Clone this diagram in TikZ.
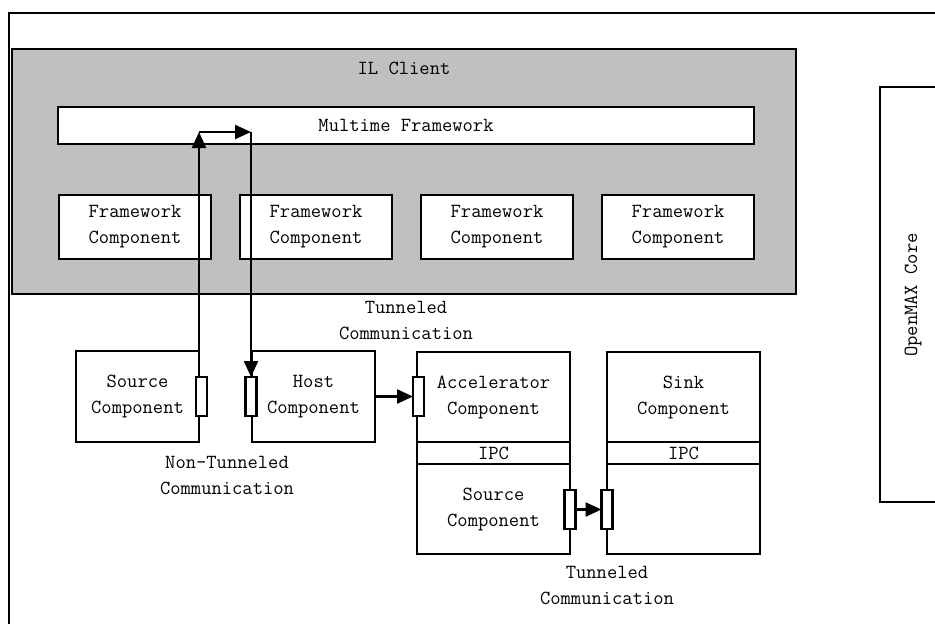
\documentclass[tikz,border=0pt]{standalone}
\usetikzlibrary{arrows.meta}
\definecolor{ilgray}{HTML}{C0C0C0}
\begin{document}
\begin{tikzpicture}[x=1pt,y=-1pt,
  every node/.style={inner sep=0pt, outer sep=0pt},
  lbl/.style={font=\ttfamily\fontsize{20}{26}\selectfont, align=center},
  box/.style={draw, line width=2.3pt, fill=white, rectangle, lbl},
  port/.style={draw, line width=2.3pt, fill=white, rectangle, minimum width=11pt, minimum height=39pt},
  conn/.style={line width=2.3pt, -{Triangle[length=16pt,width=14pt]}}]
\clip (0,0) rectangle (935,624);
\fill[white] (0,0) rectangle (935,624);
% outer frame
\node[draw, line width=2.6pt, rectangle, minimum width=960pt, minimum height=640pt, anchor=north west] (outer) at (9,13) {};
% IL client
\node[draw, line width=2.3pt, fill=ilgray, rectangle, minimum width=784pt, minimum height=245pt] (ilc) at (404,171.5) {};
\node[lbl] (iltxt) at (404,68) {IL Client};
\node[box, minimum width=696pt, minimum height=37pt] (mf) at (406,125.5) {Multime Framework};
\node[box, minimum width=152pt, minimum height=64pt] (fc1) at (135,227) {Framework\\Component};
\node[box, minimum width=152pt, minimum height=64pt] (fc2) at (316,227) {Framework\\Component};
\node[box, minimum width=152pt, minimum height=64pt] (fc3) at (497,227) {Framework\\Component};
\node[box, minimum width=152pt, minimum height=64pt] (fc4) at (678,227) {Framework\\Component};
% components
\node[box, minimum width=123pt, minimum height=91pt] (src) at (137.5,396.5) {Source\\Component};
\node[box, minimum width=123pt, minimum height=91pt] (host) at (313.5,396.5) {Host\\Component};
\node[box, minimum width=153pt, minimum height=90pt] (acc) at (493.5,397) {Accelerator\\Component};
\node[box, minimum width=153pt, minimum height=22pt] (accipc) at (493.5,453) {IPC};
\node[box, minimum width=153pt, minimum height=90pt] (accsrc) at (493.5,509) {Source\\Component};
\node[box, minimum width=153pt, minimum height=90pt] (sink) at (683.5,397) {Sink\\Component};
\node[box, minimum width=153pt, minimum height=22pt] (sinkipc) at (683.5,453) {IPC};
\node[box, minimum width=153pt, minimum height=90pt] (sinkbot) at (683.5,509) {};
% OpenMAX core
\node[draw, line width=2.3pt, rectangle, minimum width=120pt, minimum height=415pt, anchor=north west] (core) at (880,87) {};
\node[lbl, rotate=90] (coretxt) at (913,295) {OpenMAX Core};
% ports
\node[port] (p1) at (201.5,396.5) {};
\node[port] (p2) at (251,396.5) {};
\node[port] (p3) at (418.5,396.5) {};
\node[port] (p4) at (570,509.5) {};
\node[port] (p5) at (607,509.5) {};
% labels
\node[lbl] (tun1) at (406,321) {Tunneled\\Communication};
\node[lbl] (ntun) at (227,476) {Non-Tunneled\\Communication};
\node[lbl] (tun2) at (607,586) {Tunneled\\Communication};
% connectors
\coordinate (t1) at (199,132);
\coordinate (t2) at (251,132);
\draw[conn] (p1.north -| t1) -- (t1);
\draw[conn] (t1) -- (t2);
\draw[conn] (t2) -- (p2.north);
\draw[conn] (host.east) -- (p3.west);
\draw[conn] (p4.east) -- (p5.west);
\end{tikzpicture}
\end{document}
